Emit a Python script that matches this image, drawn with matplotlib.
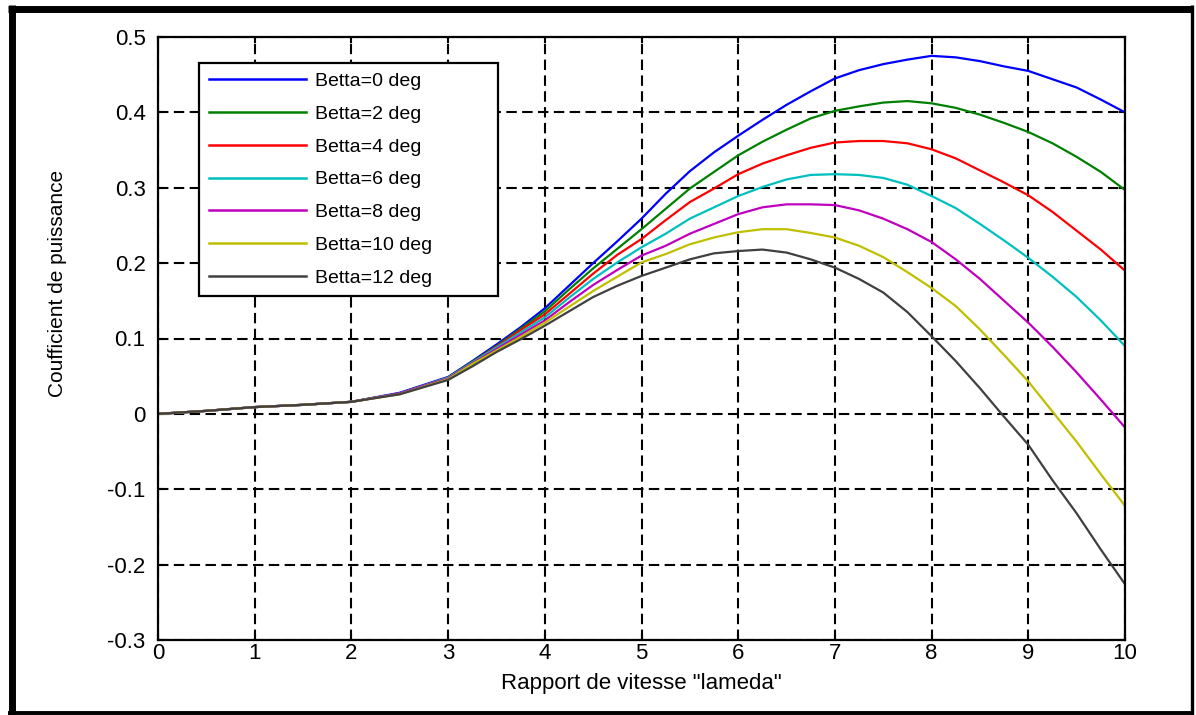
import numpy as np
import matplotlib
matplotlib.use("Agg")
import matplotlib.pyplot as plt
from matplotlib.lines import Line2D

plt.rcParams['font.family'] = ['Liberation Sans', 'DejaVu Sans']

# tip speed ratio samples
lam = [0, 0.5, 1, 1.5, 2, 2.5, 3, 3.25, 3.5, 3.75, 4, 4.25, 4.5, 4.75, 5, 5.25, 5.5, 5.75,
       6, 6.25, 6.5, 6.75, 7, 7.25, 7.5, 7.75, 8, 8.25, 8.5, 8.75, 9, 9.25, 9.5, 9.75, 10]

# power coefficient, one list per pitch angle
cp_b0 = [0, .004, .009, .012, .016, .028, .049, .070, .092, .115, .140, .170, .200, .229, .259,
         .292, .322, .347, .369, .390, .410, .428, .445, .456, .464, .470, .475, .473, .468,
         .461, .455, .444, .433, .417, .400]
cp_b2 = [0, .004, .009, .012, .016, .027, .048, .069, .090, .113, .136, .165, .193, .219, .245,
         .272, .299, .321, .343, .361, .377, .392, .402, .408, .413, .415, .412, .406, .397,
         .386, .374, .359, .341, .321, .297]
cp_b4 = [0, .004, .009, .012, .016, .027, .048, .068, .089, .111, .132, .159, .186, .211, .232,
         .257, .281, .299, .318, .332, .343, .353, .360, .362, .362, .359, .351, .339, .323,
         .307, .290, .268, .243, .218, .190]
cp_b6 = [0, .004, .009, .012, .016, .027, .048, .068, .088, .108, .128, .154, .179, .201, .221,
         .239, .259, .274, .289, .301, .311, .317, .318, .317, .313, .304, .289, .273, .252,
         .230, .207, .182, .155, .124, .090]
cp_b8 = [0, .004, .009, .012, .016, .027, .047, .067, .086, .105, .124, .148, .171, .191, .210,
         .223, .239, .252, .265, .274, .278, .278, .277, .270, .259, .245, .228, .205, .179,
         .150, .121, .089, .055, .019, -.018]
cp_b10 = [0, .004, .009, .012, .016, .026, .046, .066, .084, .102, .121, .142, .163, .182, .201,
          .212, .225, .234, .241, .245, .245, .240, .234, .223, .208, .188, .167, .143, .112,
          .078, .043, .003, -.037, -.080, -.122]
cp_b12 = [0, .004, .009, .012, .016, .026, .045, .063, .082, .099, .117, .136, .155, .170, .183,
          .194, .205, .213, .216, .218, .214, .205, .194, .179, .161, .135, .103, .070, .034,
          -.004, -.041, -.088, -.132, -.180, -.226]

series = [cp_b0, cp_b2, cp_b4, cp_b6, cp_b8, cp_b10, cp_b12]
labels = ['Betta=0 deg', 'Betta=2 deg', 'Betta=4 deg', 'Betta=6 deg',
          'Betta=8 deg', 'Betta=10 deg', 'Betta=12 deg']
colors = ['#0000ff', '#008000', '#ff0000', '#00bfbf', '#bf00bf', '#bfbf00', '#404040']

xticks = [0, 1, 2, 3, 4, 5, 6, 7, 8, 9, 10]
yticks = [-0.3, -0.2, -0.1, 0, 0.1, 0.2, 0.3, 0.4, 0.5]
ytick_labels = ['-0.3', '-0.2', '-0.1', '0', '0.1', '0.2', '0.3', '0.4', '0.5']

W, H = 1196, 715
fig = plt.figure(figsize=(W / 100, H / 100), dpi=100)
ax = fig.add_axes([158 / W, 1 - 640 / H, (1125 - 158) / W, (640 - 37) / H])

for cp, lab, col in zip(series, labels, colors):
    ax.plot(lam, cp, color=col, lw=1.6, label=lab)

ax.set_xlim(0, 10)
ax.set_ylim(-0.3, 0.5)
ax.set_xticks(xticks)
ax.set_xticklabels([str(t) for t in xticks])
ax.set_yticks(yticks)
ax.set_yticklabels(ytick_labels)
ax.grid(True, color='k', linestyle=(0, (5, 2.6)), linewidth=1.5)
ax.tick_params(direction='in', length=4, width=1.5, top=True, right=True,
               labelsize=16, colors='k')
ax.tick_params(axis='x', pad=2)
ax.tick_params(axis='y', pad=9)
for sp in ax.spines.values():
    sp.set_linewidth(1.6)

ax.set_xlabel('Rapport de vitesse "lameda"', fontsize=16, labelpad=7)
ax.set_ylabel('Coufficient de puissance', fontsize=15)
ax.yaxis.set_label_coords(-0.094, 0.592)

leg = ax.legend(loc='upper left', bbox_to_anchor=(0.0424, 0.9574, 0.3092, 0),
                mode='expand', borderaxespad=0, fontsize=14, handlelength=5.0,
                handletextpad=0.45, labelspacing=0.78, borderpad=0.5,
                fancybox=False, framealpha=1, edgecolor='k')
leg.get_frame().set_linewidth(1.6)
for h in leg.get_lines():
    h.set_linewidth(1.8)

# outer picture frame, heavier on left and top
def px_line(x0, y0, x1, y1, lw):
    fig.add_artist(Line2D([x0 / W, x1 / W], [1 - y0 / H, 1 - y1 / H],
                          transform=fig.transFigure, color='k', lw=lw,
                          solid_capstyle='butt'))

px_line(11.5, 5, 11.5, 715, 5.0)
px_line(8, 8.5, 1193, 8.5, 5.0)
px_line(1191.5, 5, 1191.5, 715, 2.4)
px_line(8, 713, 1193, 713, 2.8)

fig.savefig('out.png', dpi=100)
